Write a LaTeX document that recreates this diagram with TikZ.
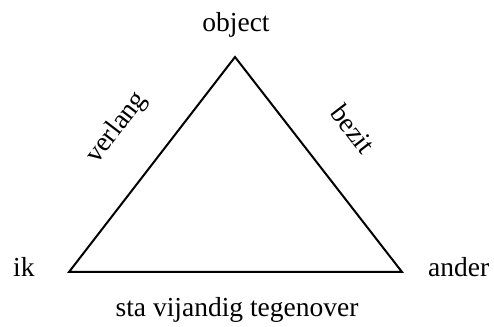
\documentclass[tikz,border=0pt]{standalone}
\usepackage{fontspec}
\setmainfont{Liberation Serif}
\begin{document}
\begin{tikzpicture}[x=1pt,y=1pt,
  lbl/.style={font=\fontsize{27.5}{32}\selectfont, inner sep=0pt},
  edge/.style={line width=2pt, line join=miter}]
\useasboundingbox (0,0) rectangle (494,326);
\coordinate (A) at (69,54);
\coordinate (O) at (235,269);
\coordinate (B) at (402,54);
\draw[edge] (A) -- (O) -- (B) -- cycle;
\node[lbl, anchor=base] (obj) at (236,294) {object};
\node[lbl, anchor=base west] (ik) at (13,49) {ik};
\node[lbl, anchor=base west] (ander) at (428,49) {ander};
\node[lbl, anchor=base] (sta) at (237,10) {sta vijandig tegenover};
\node[lbl, rotate=52.5] (verlang) at (117,198) {verlang};
\node[lbl, rotate=-52.5] (bezit) at (353,197) {bezit};
\end{tikzpicture}
\end{document}
